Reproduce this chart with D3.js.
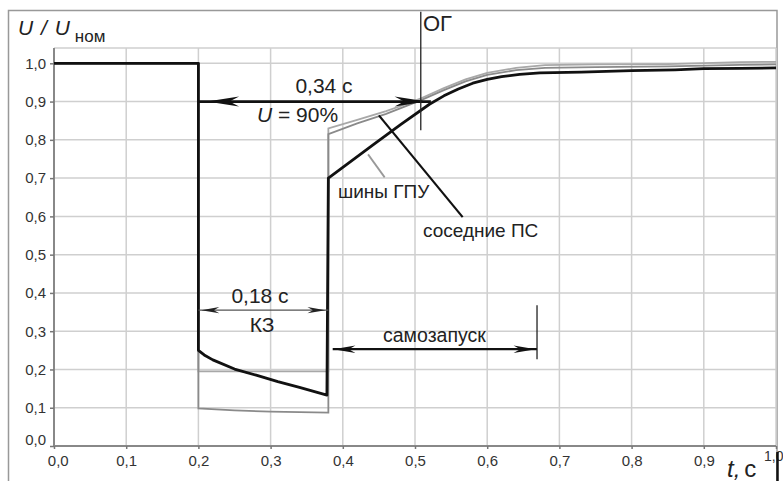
<!DOCTYPE html>
<html><head><meta charset="utf-8">
<script src="https://cdn.jsdelivr.net/npm/d3@7"></script>
<style>html,body{margin:0;padding:0;background:#fff}svg{display:block;font-family:"Liberation Sans",Arial,sans-serif}</style>
</head><body>
<svg id="c" width="783" height="481"></svg>
<script>
// ---- data ----
const xTicks = [0,0.1,0.2,0.3,0.4,0.5,0.6,0.7,0.8,0.9,1.0];
const yTicks = [0,0.1,0.2,0.3,0.4,0.5,0.6,0.7,0.8,0.9,1.0];
const tickFmt = v => v.toFixed(1).replace(".", ",");

const blackT = [0,0.2,0.2,0.208,0.22,0.25,0.28,0.31,0.34,0.378,0.38,0.40,0.44,0.48,0.52,0.54,0.56,0.58,0.60,0.62,0.645,0.673,0.73,0.8,0.86,0.9,0.95,1.0];
const blackV = [1.0,1.0,0.25,0.238,0.225,0.201,0.185,0.168,0.153,0.133,0.70,0.728,0.784,0.840,0.893,0.915,0.933,0.948,0.958,0.965,0.971,0.975,0.977,0.981,0.983,0.986,0.987,0.988];

const greyAT = [0,0.2,0.2,0.38,0.38,0.42,0.46,0.49,0.51,0.54,0.57,0.60,0.64,0.68,0.75,0.85,0.95,1.0];
const greyAV = [1.0,1.0,0.195,0.195,0.83,0.852,0.875,0.895,0.91,0.935,0.958,0.975,0.988,0.995,0.997,0.998,1.003,1.004];

const greyBT = [0,0.2,0.2,0.25,0.30,0.38,0.38,0.42,0.46,0.49,0.51,0.54,0.57,0.60,0.64,0.68,0.75,0.85,0.95,1.0];
const greyBV = [1.0,1.0,0.098,0.093,0.09,0.087,0.815,0.843,0.868,0.89,0.905,0.93,0.953,0.97,0.982,0.988,0.99,0.992,0.996,0.997];

// ---- layout ----
const svg = d3.select("#c");
const x = d3.scaleLinear().domain([0,1]).range([54,776]);
const y = d3.scaleLinear().domain([0,1.04]).range([446,48]);

// outer frame
svg.append("rect").attr("x",8.5).attr("y",10.5).attr("width",768.5).attr("height",480)
  .attr("fill","none").attr("stroke","#999").attr("stroke-width",1.5);

// grid
svg.append("g").selectAll("line.v").data(xTicks.slice(1)).join("line")
  .attr("x1",d=>x(d)).attr("x2",d=>x(d)).attr("y1",y(0)).attr("y2",y(1.04))
  .attr("stroke","#cfcfcf").attr("stroke-width",1.5);
svg.append("g").selectAll("line.h").data(yTicks.slice(1).concat([1.04])).join("line")
  .attr("x1",x(0)).attr("x2",x(1)).attr("y1",d=>y(d)).attr("y2",d=>y(d))
  .attr("stroke","#cfcfcf").attr("stroke-width",1.5);

// axes
const xAxis = d3.axisBottom(x).tickValues(xTicks).tickFormat(tickFmt).tickSize(3).tickPadding(6);
const yAxis = d3.axisLeft(y).tickValues(yTicks).tickFormat(tickFmt).tickSize(4).tickPadding(4);
const gx = svg.append("g").attr("transform",`translate(0,${y(0)})`).call(xAxis);
const gy = svg.append("g").attr("transform",`translate(${x(0)},0)`).call(yAxis);
[gx,gy].forEach(g=>{
  g.select(".domain").attr("stroke","#888").attr("stroke-width",2);
  g.selectAll(".tick line").attr("stroke","#777").attr("stroke-width",1.5);
  g.selectAll("text").attr("font-family","Liberation Sans, Arial, sans-serif").attr("font-size",15).attr("fill","#333");
});
gy.select(".domain").attr("d",`M0,${y(0)}V${y(1.04)}`);
gx.select(".domain").attr("d",`M${x(0)},0H${x(1)}`);
gy.selectAll(".tick").filter(d=>d===0).select("text").attr("dy","-0.1em");
gx.selectAll(".tick").filter(d=>d===0).select("text").attr("dx","0.25em");
// last x label sits at the right edge (clipped in the original) – keep it fully visible
gx.selectAll(".tick").filter(d=>d===1).select("text").attr("text-anchor","end").attr("x",783-x(1)).attr("font-size",14).attr("dy","0.45em");

// curves
const line = d3.line().x(d=>x(d[0])).y(d=>y(d[1]));
const zip = (a,b)=>a.map((t,i)=>[t,b[i]]);
svg.append("path").attr("d",line(zip(greyAT,greyAV))).attr("fill","none").attr("stroke","#a8a8a8").attr("stroke-width",1.8);
svg.append("path").attr("d",line(zip(greyBT,greyBV))).attr("fill","none").attr("stroke","#8a8a8a").attr("stroke-width",1.8);
svg.append("path").attr("d",line(zip(blackT,blackV))).attr("fill","none").attr("stroke","#111").attr("stroke-width",2.8).attr("stroke-linejoin","round");

// helpers
function head(tx,ty,dir,L,w,col){
  const bx = tx - dir*L;
  svg.append("path").attr("d",`M${tx},${ty}L${bx},${ty-w}L${tx-dir*L*0.7},${ty}L${bx},${ty+w}Z`).attr("fill",col||"#111");
}
function txt(px,py,s,size,anchor,style){
  return svg.append("text").attr("x",px).attr("y",py).attr("font-size",size).attr("text-anchor",anchor||"start")
    .attr("fill","#222").attr("font-style",style||"normal").text(s);
}

// 0.34 s arrow at U=90%
svg.append("line").attr("x1",x(0.2)).attr("x2",x(0.522)).attr("y1",y(0.9)).attr("y2",y(0.9)).attr("stroke","#111").attr("stroke-width",2.6);
head(x(0.212),y(0.9),-1,32,5);
head(x(0.516),y(0.9),1,32,5);
txt(324,93,"0,34 с",21,"middle");
const t90 = txt(257,122,"",21);
t90.append("tspan").attr("font-style","italic").text("U");
t90.append("tspan").text(" = 90%");

// OG line
svg.append("line").attr("x1",x(0.508)).attr("x2",x(0.508)).attr("y1",y(1.135)).attr("y2",y(0.825)).attr("stroke","#222").attr("stroke-width",1.3);
txt(423,31,"ОГ",22);

// leader lines
svg.append("line").attr("x1",x(0.458)).attr("y1",y(0.702)).attr("x2",x(0.435)).attr("y2",y(0.762)).attr("stroke","#999").attr("stroke-width",1.8);
svg.append("line").attr("x1",x(0.566)).attr("y1",y(0.598)).attr("x2",x(0.45)).attr("y2",y(0.864)).attr("stroke","#111").attr("stroke-width",2.2);
txt(338,198,"шины ГПУ",19);
txt(423,237,"соседние ПС",19);

// 0.18 s KZ arrow
svg.append("line").attr("x1",x(0.2)).attr("x2",x(0.38)).attr("y1",y(0.355)).attr("y2",y(0.355)).attr("stroke","#555").attr("stroke-width",1.3);
head(x(0.204),y(0.355),-1,18,3.2,"#222");
head(x(0.376),y(0.355),1,18,3.2,"#222");
txt(260,303,"0,18 с",21,"middle");
txt(262,332,"КЗ",21,"middle");

// self-start arrow
svg.append("line").attr("x1",x(0.386)).attr("x2",x(0.669)).attr("y1",y(0.253)).attr("y2",y(0.253)).attr("stroke","#111").attr("stroke-width",2.2);
head(x(0.387),y(0.253),-1,22,3.8);
head(x(0.667),y(0.253),1,22,3.8);
svg.append("line").attr("x1",x(0.669)).attr("x2",x(0.669)).attr("y1",y(0.368)).attr("y2",y(0.227)).attr("stroke","#222").attr("stroke-width",1.3);
txt(383,342,"самозапуск",19.5);

// axis titles
const yt = txt(18,35,"",21,"start");
yt.append("tspan").attr("font-style","italic").attr("letter-spacing",1).text("U / U");
yt.append("tspan").attr("font-size",17).attr("dx",4).attr("dy",7).text("ном");
const xt = txt(727,477,"",24,"start");
xt.append("tspan").attr("font-style","italic").text("t,");
xt.append("tspan").attr("dx",4).text("с");

// right-edge dark bar
svg.append("line").attr("x1",777.5).attr("x2",777.5).attr("y1",452).attr("y2",481).attr("stroke","#111").attr("stroke-width",2.5);
</script>
</body></html>
